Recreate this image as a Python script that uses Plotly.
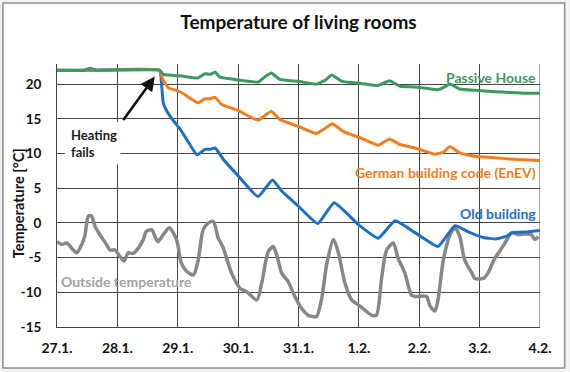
import plotly.graph_objects as go

# ---------------- data (x in days since 27.1. 00:00) ----------------
day_labels = ["27.1.", "28.1.", "29.1.", "30.1.", "31.1.", "1.2.", "2.2.", "3.2.", "4.2."]

passive_x = [0, 0.45, 0.55, 0.65, 1.70, 1.76, 1.85, 2.04, 2.34, 2.45, 2.53, 2.62, 2.70, 3.0, 3.33, 3.45,
             3.55, 3.69, 4.0, 4.30, 4.45, 4.55, 4.72, 5.04, 5.32, 5.42, 5.51, 5.68, 5.93, 6.31, 6.42, 6.51,
             6.67, 6.92, 7.25, 7.5, 7.75, 8.0]
passive_y = [22.0, 22.0, 22.3, 22.0, 22.0, 21.4, 21.3, 21.2, 20.9, 21.5, 21.4, 21.7, 21.0, 20.6, 20.3, 21.1,
             21.6, 20.7, 20.4, 20.0, 20.6, 21.3, 20.4, 20.1, 19.8, 20.2, 20.5, 19.7, 19.6, 19.2, 19.6, 20.0,
             19.3, 19.1, 18.9, 18.8, 18.7, 18.7]

enev_x = [0, 0.45, 0.55, 0.65, 1.70, 1.75, 1.84, 2.04, 2.34, 2.45, 2.53, 2.62, 2.72, 3.0, 3.33, 3.55,
          3.69, 4.0, 4.30, 4.42, 4.56, 4.74, 5.04, 5.32, 5.51, 5.68, 5.93, 6.26, 6.40, 6.51, 6.67, 6.92,
          7.25, 7.5, 7.75, 8.0]
enev_y = [22.0, 22.0, 22.2, 22.0, 22.0, 20.7, 19.5, 18.9, 17.3, 17.9, 17.9, 18.1, 17.1, 16.2, 14.8, 16.1,
          14.9, 13.9, 12.9, 13.5, 14.3, 13.2, 12.2, 11.2, 12.1, 11.3, 10.8, 9.9, 10.2, 11.0, 10.1, 9.6,
          9.4, 9.2, 9.1, 9.0]

old_x = [0, 0.55, 1.70, 1.73, 1.76, 1.82, 1.93, 2.04, 2.20, 2.32, 2.45, 2.53, 2.62, 2.76, 3.0, 3.33,
         3.57, 3.72, 4.0, 4.32, 4.59, 5.0, 5.32, 5.6, 5.93, 6.31, 6.59, 6.84, 7.06, 7.28, 7.45, 7.55,
         7.78, 8.0]
old_y = [22.0, 22.0, 22.0, 20.2, 17.3, 16.1, 14.7, 13.5, 11.3, 9.8, 10.6, 10.6, 10.8, 9.1, 6.8, 3.8,
         6.2, 4.6, 2.4, -0.1, 2.9, -0.3, -2.2, 0.3, -1.4, -3.4, -0.4, -1.4, -2.1, -2.3, -1.9, -1.4,
         -1.3, -1.1]

outside_x = [0.0, 0.08, 0.16, 0.27, 0.33, 0.41, 0.46, 0.52, 0.57, 0.63, 0.71, 0.79, 0.88, 0.96, 1.04,
             1.11, 1.18, 1.26, 1.35, 1.43, 1.48, 1.57, 1.62, 1.67, 1.76, 1.86, 1.98, 2.06, 2.15, 2.26,
             2.34, 2.42, 2.51, 2.59, 2.67, 2.75, 2.89, 3.03, 3.14, 3.31, 3.39, 3.50, 3.58, 3.64, 3.72,
             3.83, 3.94, 4.05, 4.16, 4.24, 4.30, 4.38, 4.47, 4.58, 4.66, 4.77, 4.88, 5.02, 5.21, 5.29,
             5.38, 5.46, 5.57, 5.65, 5.76, 5.87, 5.93, 6.12, 6.18, 6.26, 6.31, 6.40, 6.51, 6.59, 6.67,
             6.75, 6.87, 6.92, 7.06, 7.14, 7.25, 7.33, 7.42, 7.53, 7.64, 7.75, 7.86, 7.91, 7.97]
outside_y = [-2.7, -3.1, -2.9, -3.9, -4.3, -3.1, -1.9, 1.0, 1.0, -0.5, -1.7, -2.7, -3.9, -3.9, -4.8,
             -5.5, -4.3, -4.4, -3.6, -2.4, -1.2, -1.0, -1.9, -2.7, -1.7, -0.7, -2.4, -5.8, -7.0, -7.5,
             -5.3, -1.0, 0.0, 0.2, -2.2, -3.5, -7.2, -9.4, -9.9, -11.1, -8.7, -4.1, -3.4, -4.6, -7.2,
             -8.5, -10.6, -12.3, -13.3, -13.5, -13.5, -11.1, -5.8, -2.4, -4.3, -8.7, -11.1, -12.0, -13.3, -13.3,
             -7.7, -3.9, -2.9, -5.1, -7.2, -10.4, -10.6, -10.6, -12.0, -12.7, -11.1, -5.3, -1.7, -0.7, -1.9,
             -5.3, -7.2, -8.0, -8.0, -7.2, -5.1, -4.1, -2.9, -1.4, -1.7, -1.6, -1.7, -2.4, -2.0]

# ---------------- styles ----------------
GREEN = "#3c9a5f"
ORANGE = "#f27d1e"
BLUE = "#1e6ec8"
GRAY = "#878787"
LABEL_GRAY = "#a3a3a3"
GRID = "#444444"
FONT = "Lato"

fig = go.Figure()
fig.add_trace(go.Scatter(x=outside_x, y=outside_y, mode="lines", name="Outside temperature",
                         line=dict(color=GRAY, width=3.5, shape="spline", smoothing=0.7)))
fig.add_trace(go.Scatter(x=old_x, y=old_y, mode="lines", name="Old building",
                         line=dict(color=BLUE, width=3, shape="spline", smoothing=0.4)))
fig.add_trace(go.Scatter(x=enev_x, y=enev_y, mode="lines", name="German building code (EnEV)",
                         line=dict(color=ORANGE, width=3, shape="spline", smoothing=0.4)))
fig.add_trace(go.Scatter(x=passive_x, y=passive_y, mode="lines", name="Passive House",
                         line=dict(color=GREEN, width=3, shape="spline", smoothing=0.4)))

# outer frame (paper coords relative to plot area)
fig.add_shape(type="rect", xref="paper", yref="paper", x0=-0.112, x1=1.051, y0=-0.156, y1=1.232,
              fillcolor="white", line=dict(color="#8c8c8c", width=1.5), layer="below")
# right edge gridline at 4.2.
fig.add_shape(type="line", xref="x", yref="paper", x0=8, x1=8, y0=0, y1=1,
              line=dict(color=GRID, width=1), layer="below")
# white box behind "Heating fails"
fig.add_shape(type="rect", xref="x", yref="y", x0=0.13, x1=1.05, y0=8.4, y1=14.5,
              fillcolor="white", line=dict(width=0), layer="between")

fig.add_annotation(x=1.62, y=21.1, ax=1.08, ay=14.6, xref="x", yref="y", axref="x", ayref="y",
                   text="", showarrow=True, arrowhead=2, arrowsize=1.1, arrowwidth=2.6,
                   arrowcolor="#111111")
fig.add_annotation(x=0.2, y=11.5, xref="x", yref="y", text="<b>Heating</b><br><b>fails</b>", showarrow=False,
                   xanchor="left", yanchor="middle", align="left",
                   font=dict(family=FONT, size=13, color="#1a1a1a"))

label_font = dict(family=FONT, size=14)
fig.add_annotation(x=7.96, y=21.0, xref="x", yref="y", text="<b>Passive House</b>", showarrow=False,
                   xanchor="right", yanchor="middle", font=dict(**label_font, color=GREEN))
fig.add_annotation(x=7.96, y=7.2, xref="x", yref="y", text="<b>German building code (EnEV)</b>",
                   showarrow=False, xanchor="right", yanchor="middle", font=dict(**label_font, color=ORANGE))
fig.add_annotation(x=7.96, y=1.3, xref="x", yref="y", text="<b>Old building</b>", showarrow=False,
                   xanchor="right", yanchor="middle", font=dict(**label_font, color=BLUE))
fig.add_annotation(x=0.03, y=-8.4, xref="x", yref="y", text="<b>Outside temperature</b>", showarrow=False,
                   xanchor="left", yanchor="middle", font=dict(**label_font, color=LABEL_GRAY))

# y axis title placed as rotated annotation
fig.add_annotation(x=-0.079, y=0.47, xref="paper", yref="paper", text="<b>Temperature [°C]</b>",
                   showarrow=False, textangle=-90, xanchor="center", yanchor="middle",
                   font=dict(family=FONT, size=14.5, color="#111111"))

fig.update_layout(
    width=570, height=372,
    margin=dict(l=57, r=30, t=64, b=45),
    paper_bgcolor="#f3f3f3",
    plot_bgcolor="rgba(0,0,0,0)",
    showlegend=False,
    title=dict(text="<b>Temperature of living rooms</b>", x=0.5, xref="paper", xanchor="center",
               y=1 - 22 / 372, yref="container", yanchor="middle",
               font=dict(family=FONT, size=19, color="#111111")),
    font=dict(family=FONT, color="#111111"),
)

fig.update_xaxes(range=[0, 8], tickvals=list(range(len(day_labels))), ticktext=[f"<b>{t}</b>" for t in day_labels],
                 showgrid=True, gridcolor=GRID, gridwidth=1, zeroline=False,
                 showline=True, linecolor=GRID, linewidth=1, ticks="", ticklabelstandoff=8,
                 tickfont=dict(family=FONT, size=14, color="#111111"), fixedrange=True)
fig.update_yaxes(range=[-15, 22.9], tickvals=[-15, -10, -5, 0, 5, 10, 15, 20],
                 ticktext=[f"<b>{v}</b>" for v in [-15, -10, -5, 0, 5, 10, 15, 20]],
                 showgrid=True, gridcolor=GRID, gridwidth=1, zeroline=False,
                 showline=True, linecolor=GRID, linewidth=1, ticks="", ticklabelstandoff=12,
                 tickfont=dict(family=FONT, size=13.5, color="#111111"), fixedrange=True)

fig.write_html("out.html", config={"displayModeBar": False},
               post_script="document.body.style.margin='0px';")
